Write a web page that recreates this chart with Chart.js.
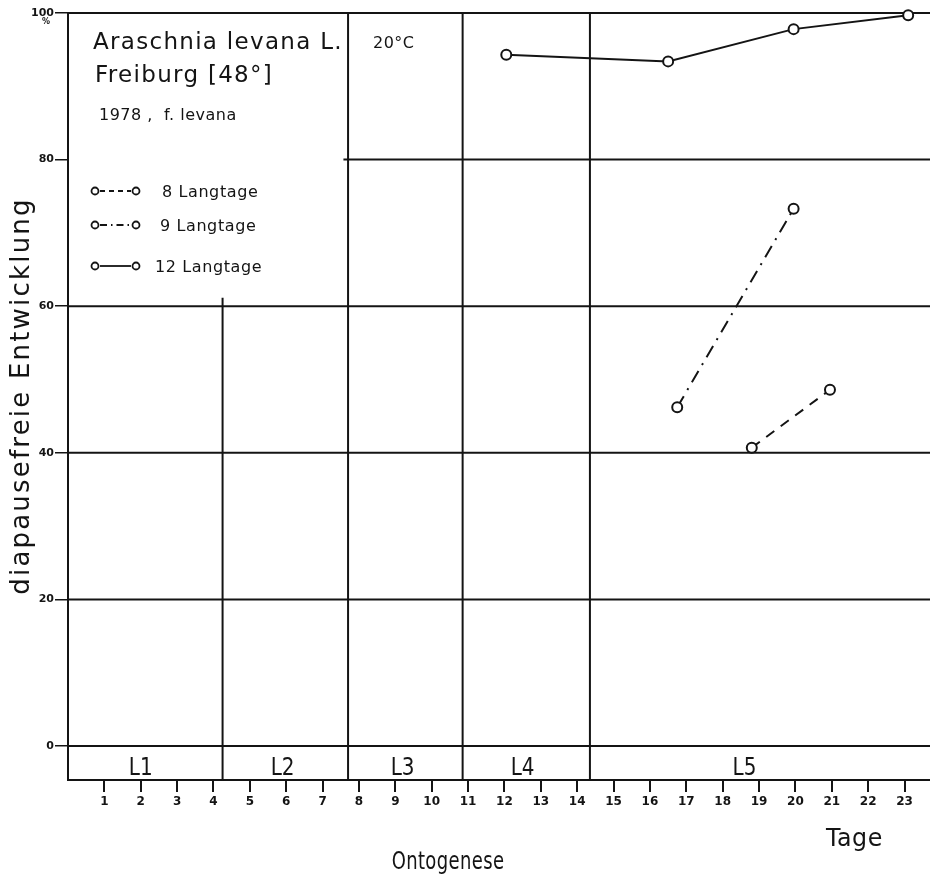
<!DOCTYPE html>
<html lang="de">
<head>
  <meta charset="UTF-8">
  <title>Araschnia levana L. – diapausefreie Entwicklung</title>
  <style>
    html, body { margin: 0; padding: 0; background: #fff; }
    #wrap { width: 930px; height: 878px; }
  </style>
</head>
<body>
  <div id="wrap"><canvas id="myChart" width="930" height="878"></canvas></div>

  <script src="https://cdn.jsdelivr.net/npm/chart.js"></script>
  <script>
// days on the x axis and the percent ticks
const days = [1, 2, 3, 4, 5, 6, 7, 8, 9, 10, 11, 12, 13, 14, 15, 16, 17, 18, 19, 20, 21, 22, 23];
const yTicks = [0, 20, 40, 60, 80, 100];

// 8 Langtage (dashed)
const lt8Days = [18.8, 20.95];
const lt8Values = [40.7, 48.6];
// 9 Langtage (dash-dot)
const lt9Days = [16.75, 19.95];
const lt9Values = [46.2, 73.3];
// 12 Langtage (solid)
const lt12Days = [12.05, 16.5, 19.95, 23.1];
const lt12Values = [94.3, 93.4, 97.8, 99.7];

// larval stages: boundaries in days, names, where the names sit
const stageBounds = [4.25, 7.7, 10.85, 14.35];
const stageNames = ['L1', 'L2', 'L3', 'L4', 'L5'];
const stageLabelDays = [2, 5.9, 9.2, 12.5, 18.6];

const INK = '#141414';
const FONT = '"DejaVu Sans", sans-serif';

function pts(xs, ys) {
  return xs.map((x, i) => ({ x: x, y: ys[i] }));
}

function seriesStyle(data, dash) {
  return {
    data: data,
    showLine: true,
    borderColor: INK,
    borderWidth: 2,
    borderDash: dash,
    pointRadius: 5,
    pointBorderWidth: 2,
    pointBackgroundColor: '#fff',
    pointBorderColor: INK,
    clip: false,
  };
}

// draw text squeezed horizontally (the lettering in the original is narrow)
function narrowText(ctx, text, px, py, sx, align) {
  ctx.save();
  ctx.translate(px, py);
  ctx.scale(sx, 1);
  ctx.textAlign = align || 'left';
  ctx.fillText(text, 0, 0);
  ctx.restore();
}

// frame, grid and stage band
const framePlugin = {
  id: 'frame',
  beforeDatasetsDraw(chart) {
    const { ctx, scales: { x, y } } = chart;
    const xMin = x.min, xMax = x.max, yMin = y.min;
    const hLine = (v, from, to) => {
      ctx.beginPath();
      ctx.moveTo(x.getPixelForValue(from), y.getPixelForValue(v));
      ctx.lineTo(x.getPixelForValue(to), y.getPixelForValue(v));
      ctx.stroke();
    };
    const vLine = (v, from, to) => {
      ctx.beginPath();
      ctx.moveTo(x.getPixelForValue(v), y.getPixelForValue(from));
      ctx.lineTo(x.getPixelForValue(v), y.getPixelForValue(to));
      ctx.stroke();
    };
    ctx.save();
    ctx.strokeStyle = INK;
    ctx.lineWidth = 2;
    ctx.lineCap = 'square';
    hLine(100, xMin, xMax);
    hLine(80, stageBounds[1] - 0.1, xMax);
    hLine(60, xMin, xMax);
    hLine(40, xMin, xMax);
    hLine(20, xMin, xMax);
    hLine(0, xMin, xMax);
    hLine(yMin, xMin, xMax);
    vLine(xMin, yMin, 100);
    vLine(stageBounds[0], yMin, 61);
    vLine(stageBounds[1], yMin, 100);
    vLine(stageBounds[2], yMin, 100);
    vLine(stageBounds[3], yMin, 100);

    // stage names in the band
    ctx.fillStyle = INK;
    ctx.font = '25px ' + FONT;
    ctx.textBaseline = 'alphabetic';
    stageNames.forEach((n, i) => {
      narrowText(ctx, n, x.getPixelForValue(stageLabelDays[i]), y.getPixelForValue(0) + 29, 0.8, 'center');
    });
    ctx.restore();
  },
  afterDraw(chart) {
    const { ctx } = chart;
    ctx.save();
    ctx.fillStyle = INK;
    ctx.textBaseline = 'alphabetic';
    ctx.textAlign = 'left';

    ctx.font = '23px ' + FONT;
    ctx.letterSpacing = '1.3px';
    ctx.fillText('Araschnia levana L.', 93, 49);
    ctx.fillText('Freiburg [48°]', 95, 82);
    ctx.font = '16px ' + FONT;
    ctx.letterSpacing = '0.5px';
    ctx.fillText('1978 ,  f. levana', 99, 120);
    ctx.fillText('20°C', 373, 48);

    // legend
    const rows = [
      { yy: 191, dash: [5, 4], text: '8 Langtage', tx: 162 },
      { yy: 225, dash: [7, 4, 1.5, 4], text: '9 Langtage', tx: 160 },
      { yy: 266, dash: [], text: '12 Langtage', tx: 155 },
    ];
    ctx.font = '16px ' + FONT;
    ctx.letterSpacing = '0.6px';
    rows.forEach(r => {
      ctx.strokeStyle = INK;
      ctx.lineWidth = 1.8;
      ctx.setLineDash(r.dash);
      ctx.beginPath();
      ctx.moveTo(100, r.yy);
      ctx.lineTo(131, r.yy);
      ctx.stroke();
      ctx.setLineDash([]);
      [95, 136].forEach(cx => {
        ctx.beginPath();
        ctx.arc(cx, r.yy, 3.5, 0, Math.PI * 2);
        ctx.fillStyle = '#fff';
        ctx.fill();
        ctx.stroke();
      });
      ctx.fillStyle = INK;
      ctx.fillText(r.text, r.tx, r.yy + 6);
    });

    // percent sign under 100
    ctx.letterSpacing = '0px';
    ctx.font = 'bold 8px ' + FONT;
    ctx.fillText('%', 42, 24);

    // axis names
    ctx.font = '25px ' + FONT;
    ctx.letterSpacing = '0.5px';
    narrowText(ctx, 'Tage', 826, 846, 0.95, 'left');
    narrowText(ctx, 'Ontogenese', 448, 869, 0.72, 'center');

    ctx.translate(22, 396);
    ctx.rotate(-Math.PI / 2);
    ctx.font = '26px ' + FONT;
    ctx.letterSpacing = '2.2px';
    ctx.textAlign = 'center';
    ctx.textBaseline = 'middle';
    ctx.fillText('diapausefreie Entwicklung', 0, 0);
    ctx.restore();
  }
};

new Chart(document.getElementById('myChart'), {
  type: 'scatter',
  data: {
    datasets: [
      Object.assign({ label: '8 Langtage' }, seriesStyle(pts(lt8Days, lt8Values), [10, 8])),
      Object.assign({ label: '9 Langtage' }, seriesStyle(pts(lt9Days, lt9Values), [13, 7, 2, 7])),
      Object.assign({ label: '12 Langtage' }, seriesStyle(pts(lt12Days, lt12Values), [])),
    ]
  },
  options: {
    responsive: false,
    devicePixelRatio: 1,
    animation: false,
    layout: { autoPadding: false, padding: { top: 13, right: 0, left: 0, bottom: 0 } },
    plugins: {
      legend: { display: false },
      tooltip: { enabled: false },
    },
    scales: {
      x: {
        type: 'linear',
        min: 0,
        max: 23.7,
        afterBuildTicks: s => { s.ticks = days.map(v => ({ value: v })); },
        afterFit: s => { s.height = 98; s.paddingLeft = 0; s.paddingRight = 0; },
        border: { display: false },
        grid: { drawOnChartArea: false, drawTicks: true, tickLength: 12, color: INK, lineWidth: 2 },
        ticks: { color: INK, padding: 3, maxRotation: 0, autoSkip: false, font: { family: FONT, size: 12, weight: 'bold' } },
      },
      y: {
        min: -4.64,
        max: 100,
        afterBuildTicks: s => { s.ticks = yTicks.map(v => ({ value: v })); },
        afterFit: s => { s.width = 68; s.paddingTop = 0; s.paddingBottom = 0; },
        border: { display: false },
        grid: { drawOnChartArea: false, drawTicks: true, tickLength: 13, color: INK, lineWidth: 1.5 },
        ticks: { color: INK, padding: 1, font: { family: FONT, size: 11, weight: 'bold' } },
      }
    }
  },
  plugins: [framePlugin]
});
  </script>
</body>
</html>
